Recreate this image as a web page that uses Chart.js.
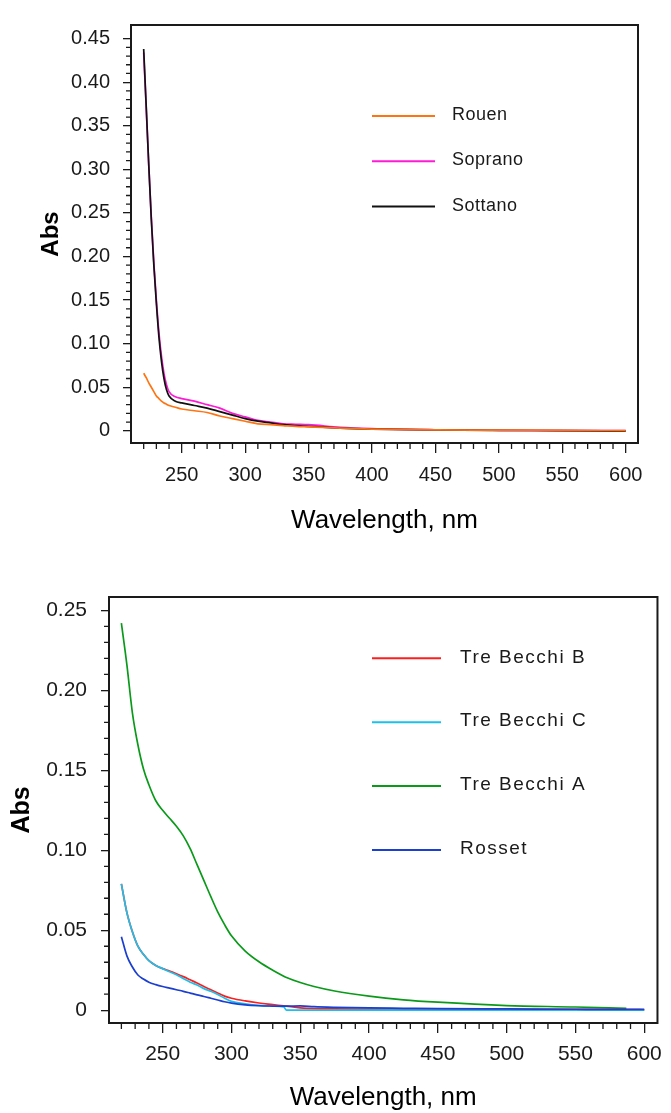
<!DOCTYPE html>
<html>
<head>
<meta charset="utf-8">
<script src="https://cdn.jsdelivr.net/npm/chart.js@4.4.1/dist/chart.umd.min.js"></script>
<style>
  html, body { margin: 0; padding: 0; background: #fff; }
  .box { position: relative; width: 671px; }
  #top { height: 556px; }
  #bottom { height: 557px; }
</style>
</head>
<body>
<div class="box" id="top"><canvas id="chartTop"></canvas></div>
<div class="box" id="bottom"><canvas id="chartBottom"></canvas></div>
<script>
// ---- data ----
var topWavelength = [220, 222, 224, 226, 228, 230, 232, 234, 236, 238, 240, 245, 250, 260, 270, 280, 290, 300, 310, 320, 330, 340, 350, 375, 400, 450, 500, 550, 600];
var rouen   = [0.066, 0.061, 0.055, 0.050, 0.045, 0.040, 0.037, 0.034, 0.032, 0.0305, 0.029, 0.027, 0.025, 0.023, 0.021, 0.017, 0.014, 0.011, 0.008, 0.007, 0.006, 0.005, 0.0045, 0.003, 0.002, 0.001, 0.0008, 0.0005, 0.0003];
var soprano = [0.434, 0.370, 0.305, 0.245, 0.193, 0.150, 0.113, 0.086, 0.066, 0.053, 0.045, 0.039, 0.037, 0.034, 0.030, 0.026, 0.020, 0.016, 0.012, 0.010, 0.008, 0.0075, 0.007, 0.004, 0.0025, 0.0012, 0.0006, 0.0003, 0.0001];
var sottano = [0.438, 0.372, 0.305, 0.243, 0.190, 0.146, 0.108, 0.080, 0.060, 0.047, 0.040, 0.034, 0.032, 0.029, 0.026, 0.022, 0.018, 0.014, 0.011, 0.009, 0.007, 0.006, 0.005, 0.003, 0.002, 0.001, 0.0005, 0.0002, -0.0003];

var botWavelength = [220, 224, 228, 232, 236, 240, 245, 250, 255, 260, 265, 270, 275, 280, 285, 290, 295, 300, 310, 320, 330, 338, 340, 350, 360, 375, 400, 425, 450, 500, 550, 587, 600];
var treBecchiB = [0.079, 0.061, 0.049, 0.040, 0.035, 0.031, 0.028, 0.026, 0.0245, 0.0228, 0.021, 0.019, 0.017, 0.0148, 0.0128, 0.0108, 0.0088, 0.0075, 0.0058, 0.0045, 0.0035, 0.0027, 0.0025, 0.0015, 0.001, 0.0008, 0.0007, 0.0006, 0.0006, 0.0005, 0.0005, 0.0004, 0.0003];
var treBecchiC = [0.079, 0.061, 0.049, 0.040, 0.035, 0.031, 0.028, 0.026, 0.024, 0.0222, 0.0198, 0.0175, 0.0158, 0.0135, 0.0118, 0.0098, 0.0075, 0.0055, 0.0040, 0.0030, 0.0025, 0.0020, 0, 0, 0, 0, 0, 0, 0, 0, 0, 0, 0];
var treBecchiA = [0.242, 0.216, 0.186, 0.166, 0.151, 0.141, 0.131, 0.125, 0.120, 0.115, 0.109, 0.101, 0.091, 0.081, 0.071, 0.0615, 0.0535, 0.0465, 0.0370, 0.0303, 0.0250, 0.0213, 0.0205, 0.0173, 0.0148, 0.0120, 0.0088, 0.0065, 0.0050, 0.0029, 0.0020, 0.0011, null];
var rosset = [0.046, 0.034, 0.027, 0.022, 0.0195, 0.0175, 0.016, 0.0148, 0.0138, 0.0128, 0.0118, 0.0107, 0.0096, 0.0086, 0.0075, 0.0064, 0.0053, 0.0044, 0.0033, 0.0028, 0.0026, 0.0025, 0.0025, 0.0027, 0.0022, 0.0018, 0.0014, 0.0012, 0.0010, 0.0008, 0.0006, 0.0005, 0.0005];

var xTicks = [250, 300, 350, 400, 450, 500, 550, 600];
var topYTicks = [0, 0.05, 0.10, 0.15, 0.20, 0.25, 0.30, 0.35, 0.40, 0.45];
var botYTicks = [0, 0.05, 0.10, 0.15, 0.20, 0.25];

var FONT = "'Liberation Sans', Arial, Helvetica, sans-serif";
var INK = '#1a1a1a';

function points(xs, ys) {
    var out = [];
    for (var i = 0; i < xs.length; i++) {
        if (ys[i] !== null) out.push({ x: xs[i], y: ys[i] });
    }
    return out;
}

function line(label, xs, ys, color, order) {
    return {
        label: label,
        data: points(xs, ys),
        borderColor: color,
        backgroundColor: color,
        borderWidth: 1.7,
        pointRadius: 0,
        fill: false,
        cubicInterpolationMode: 'monotone',
        order: order
    };
}

// frame box, minor ticks and the in-plot legend
var framePlugin = {
    id: 'frame',
    afterDatasetsDraw: function (chart, args, o) {
        var ctx = chart.ctx, a = chart.chartArea;
        var xs = chart.scales.x, ys = chart.scales.y;
        ctx.save();
        ctx.strokeStyle = INK;
        ctx.lineWidth = 1.3;
        ctx.beginPath();
        for (var nm = 220; nm <= 600; nm += 10) {
            if (nm % 50 === 0) continue;
            var px = xs.getPixelForValue(nm);
            ctx.moveTo(px, a.bottom);
            ctx.lineTo(px, a.bottom + o.xMinorLen);
        }
        for (var i = 1; i <= o.yMinorCount; i++) {
            if (i % 5 === 0) continue;
            var py = ys.getPixelForValue(i / 100);
            ctx.moveTo(a.left, py);
            ctx.lineTo(a.left - o.yMinorLen, py);
        }
        ctx.stroke();

        ctx.lineWidth = 2;
        ctx.strokeRect(a.left, a.top, a.right - a.left, a.bottom - a.top);

        // legend
        ctx.font = o.legendFont;
        ctx.textBaseline = 'middle';
        ctx.textAlign = 'left';
        if ('letterSpacing' in ctx) ctx.letterSpacing = o.legendSpacing;
        chart.data.datasets.forEach(function (ds, k) {
            var y = o.legendY + k * o.legendStep;
            ctx.strokeStyle = ds.borderColor;
            ctx.lineWidth = 2;
            ctx.beginPath();
            ctx.moveTo(o.legendX, y);
            ctx.lineTo(o.legendX + o.legendLine, y);
            ctx.stroke();
            ctx.fillStyle = INK;
            ctx.fillText(ds.label, o.legendText, y - 1);
        });
        ctx.restore();
    }
};

function makeChart(id, datasets, cfg) {
    return new Chart(document.getElementById(id), {
        type: 'line',
        data: { datasets: datasets },
        plugins: [framePlugin],
        options: {
            responsive: true,
            maintainAspectRatio: false,
            animation: false,
            devicePixelRatio: 1,
            layout: { autoPadding: false, padding: cfg.padding },
            plugins: {
                legend: { display: false },
                tooltip: { enabled: false },
                frame: cfg.frame
            },
            scales: {
                x: {
                    type: 'linear',
                    min: cfg.xMin,
                    max: cfg.xMax,
                    afterFit: function (s) { s.height = cfg.xHeight; },
                    afterBuildTicks: function (s) { s.ticks = xTicks.map(function (v) { return { value: v }; }); },
                    border: { display: false },
                    grid: { drawOnChartArea: false, drawTicks: true, tickLength: 10, color: INK, lineWidth: 1.3 },
                    ticks: {
                        autoSkip: false, maxRotation: 0, padding: cfg.xTickPad, color: INK,
                        font: { family: FONT, size: cfg.tickSize },
                        callback: function (v) { return String(v); }
                    },
                    title: {
                        display: true, text: 'Wavelength, nm', color: '#000',
                        font: { family: FONT, size: 26 },
                        padding: { top: 0, bottom: cfg.xTitlePad }
                    }
                },
                y: {
                    min: cfg.yMin,
                    max: cfg.yMax,
                    afterFit: function (s) { s.width = cfg.yWidth; },
                    afterBuildTicks: function (s) { s.ticks = cfg.yTicks.map(function (v) { return { value: v }; }); },
                    border: { display: false },
                    grid: { drawOnChartArea: false, drawTicks: true, tickLength: 8, color: INK, lineWidth: 1.3 },
                    ticks: {
                        autoSkip: false, padding: cfg.yTickPad, color: INK,
                        font: { family: FONT, size: cfg.tickSize },
                        callback: function (v) { return v === 0 ? '0' : v.toFixed(2); }
                    },
                    title: {
                        display: true, text: 'Abs', color: '#000',
                        font: { family: FONT, size: cfg.yTitleSize, weight: 'bold' },
                        padding: { top: cfg.yTitlePad, bottom: 0 }
                    }
                }
            }
        }
    });
}

makeChart('chartTop', [
    line('Rouen', topWavelength, rouen, '#ff7412', 0),
    line('Soprano', topWavelength, soprano, '#ff1ad6', 2),
    line('Sottano', topWavelength, sottano, '#111111', 1)
], {
    padding: { top: 13, right: 33, left: 0, bottom: 0 },
    xMin: 210, xMax: 609.7, yMin: -0.014, yMax: 0.4656,
    xHeight: 113, yWidth: 131,
    xTickPad: 10, yTickPad: 13, tickSize: 20,
    xTitlePad: 20, yTitlePad: 37, yTitleSize: 24,
    yTicks: topYTicks,
    frame: {
        xMinorLen: 6, yMinorLen: 5, yMinorCount: 45,
        legendFont: '18px ' + FONT, legendSpacing: '0.5px',
        legendX: 372, legendLine: 63, legendText: 452, legendY: 116, legendStep: 45.3
    }
});

makeChart('chartBottom', [
    line('Tre Becchi B', botWavelength, treBecchiB, '#ff1e1e', 2),
    line('Tre Becchi C', botWavelength, treBecchiC, '#1cc0ea', 1),
    line('Tre Becchi A', botWavelength, treBecchiA, '#0a9a1a', 3),
    line('Rosset', botWavelength, rosset, '#1b3fd0', 0)
], {
    padding: { top: 41, right: 9, left: 0, bottom: 0 },
    xMin: 211, xMax: 609.6, yMin: -0.008, yMax: 0.2584,
    xHeight: 90, yWidth: 109,
    xTickPad: 9, yTickPad: 14, tickSize: 21,
    xTitlePad: 0, yTitlePad: 7, yTitleSize: 25,
    yTicks: botYTicks,
    frame: {
        xMinorLen: 6, yMinorLen: 5, yMinorCount: 25,
        legendFont: '19px ' + FONT, legendSpacing: '1.5px',
        legendX: 372, legendLine: 69, legendText: 460, legendY: 102.3, legendStep: 63.9
    }
});
</script>
</body>
</html>
